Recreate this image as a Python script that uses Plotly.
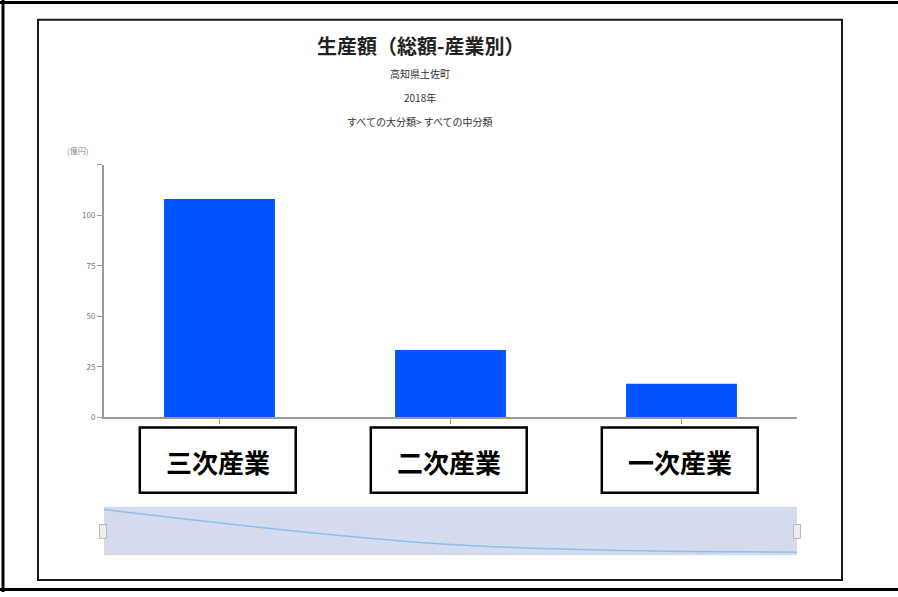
import plotly.graph_objects as go

# 生産額（総額-産業別） 高知県土佐町 2018年
categories = ["三次産業", "二次産業", "一次産業"]
values = [108.0, 33.3, 16.7]          # 億円
y_tickvals = [0, 25, 50, 75, 100, 125]
y_ticktext = ["0", "25", "50", "75", "100", ""]

title_text = "生産額（総額-産業別）"
subtitles = ["高知県土佐町", "2018年", "すべての大分類> すべての中分類"]
unit_text = "(億円)"

W, H = 898, 597
FONT = "Noto Sans CJK JP"


def px_x(p):
    return p / W


def px_y(p):
    return 1 - p / H


fig = go.Figure()

# main bars
fig.add_trace(go.Bar(
    x=categories, y=values,
    marker=dict(color="#0055ff", line=dict(width=0)),
    xaxis="x", yaxis="y", showlegend=False, hoverinfo="x+y",
))

# data-zoom preview line
fig.add_trace(go.Scatter(
    x=list(range(len(values))), y=values,
    mode="lines", line=dict(color="#8ec0f0", width=1.5, shape="spline", smoothing=1.0),
    xaxis="x2", yaxis="y2", showlegend=False, hoverinfo="skip",
))

shapes = []
# outer border
shapes += [
    dict(type="line", xref="paper", yref="paper", x0=px_x(0), x1=px_x(W), y0=px_y(2.5), y1=px_y(2.5),
         line=dict(color="black", width=3)),
    dict(type="line", xref="paper", yref="paper", x0=px_x(3), x1=px_x(3), y0=px_y(0), y1=px_y(H),
         line=dict(color="black", width=3)),
    dict(type="line", xref="paper", yref="paper", x0=px_x(0), x1=px_x(W), y0=px_y(594.5), y1=px_y(594.5),
         line=dict(color="black", width=3)),
]
# inner frame
shapes.append(dict(type="rect", xref="paper", yref="paper",
                   x0=px_x(38), x1=px_x(842), y0=px_y(20), y1=px_y(585),
                   line=dict(color="#1a1a1a", width=2), fillcolor="rgba(0,0,0,0)"))

# boxed category labels
for i, c in enumerate(categories):
    shapes.append(dict(type="rect", xref="x", yref="paper",
                       x0=i - 0.345, x1=i + 0.33, y0=px_y(431), y1=px_y(497),
                       line=dict(color="black", width=2.5), fillcolor="white"))

# slider background
shapes.append(dict(type="rect", xref="x2 domain", yref="y2 domain", x0=0, x1=1, y0=0, y1=1,
                   line=dict(width=0), fillcolor="#d3dbec", layer="below"))
# slider handles
for hx in (103, 797):
    shapes.append(dict(type="rect", xref="paper", yref="paper",
                       x0=px_x(hx - 3.5), x1=px_x(hx + 3.5), y0=px_y(529), y1=px_y(543),
                       line=dict(color="#b8b8b8", width=1), fillcolor="#eeeeee"))

annotations = [
    dict(text=f"<b>{title_text}</b>", x=px_x(420), y=px_y(46), xref="paper", yref="paper",
         showarrow=False, font=dict(family=FONT, size=20, color="#222"), xanchor="center", yanchor="middle"),
]
for t, yy in zip(subtitles, (74, 98, 123)):
    annotations.append(dict(text=t, x=px_x(420), y=px_y(yy), xref="paper", yref="paper",
                            showarrow=False, font=dict(family=FONT, size=10, color="#333"),
                            xanchor="center", yanchor="middle"))
annotations.append(dict(text=unit_text, x=px_x(77), y=px_y(152), xref="paper", yref="paper",
                        showarrow=False, font=dict(family=FONT, size=8, color="#888"),
                        xanchor="center", yanchor="middle"))
for i, c in enumerate(categories):
    annotations.append(dict(text=f"<b>{c}</b>", x=i - 0.0075, y=px_y(465), xref="x", yref="paper",
                            showarrow=False, font=dict(family=FONT, size=26, color="black"),
                            xanchor="center", yanchor="middle"))

fig.update_layout(
    width=W, height=H,
    margin=dict(l=0, r=0, t=0, b=0),
    paper_bgcolor="white", plot_bgcolor="white",
    bargap=0.52,
    xaxis=dict(domain=[px_x(104), px_x(797)], showticklabels=False,
               showline=True, linecolor="#999", linewidth=2,
               ticks="outside", ticklen=5, tickcolor="#999", tickwidth=1,
               showgrid=False, zeroline=False, fixedrange=True),
    yaxis=dict(domain=[px_y(421), px_y(166)], range=[0, 125],
               tickvals=y_tickvals, ticktext=y_ticktext,
               showline=True, linecolor="#999", linewidth=2,
               ticks="outside", ticklen=5, tickcolor="#999",
               tickfont=dict(family=FONT, size=8, color="#777"),
               showgrid=False, zeroline=False, fixedrange=True),
    xaxis2=dict(domain=[px_x(104), px_x(797)], range=[0, len(values) - 1], visible=False,
                anchor="y2", fixedrange=True),
    yaxis2=dict(domain=[px_y(560), px_y(511)], range=[10, 114], visible=False,
                anchor="x2", fixedrange=True),
    shapes=shapes,
    annotations=annotations,
)

fig.write_html("out.html", config={"displayModeBar": False})
